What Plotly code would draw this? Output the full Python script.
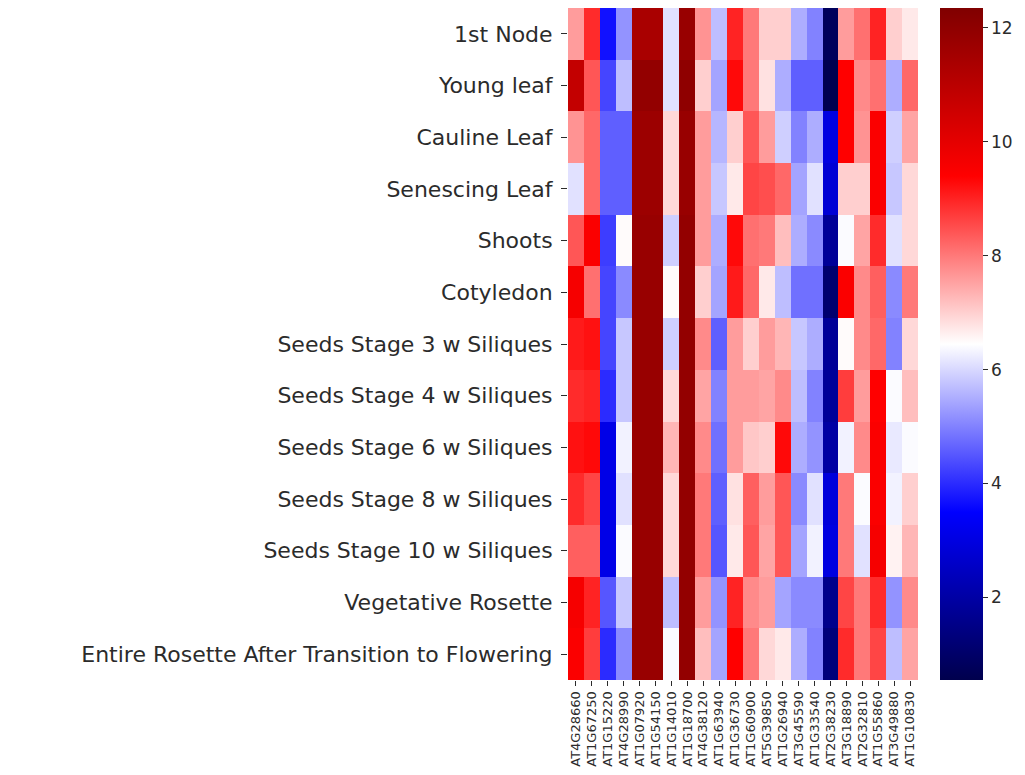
import plotly.graph_objects as go

tissues = [
    "1st Node", "Young leaf", "Cauline Leaf", "Senescing Leaf", "Shoots", "Cotyledon",
    "Seeds Stage 3 w Siliques", "Seeds Stage 4 w Siliques", "Seeds Stage 6 w Siliques",
    "Seeds Stage 8 w Siliques", "Seeds Stage 10 w Siliques", "Vegetative Rosette",
    "Entire Rosette After Transition to Flowering",
]

genes = [
    "AT4G28660", "AT1G67250", "AT1G15220", "AT4G28990", "AT1G07920", "AT1G54150",
    "AT1G14010", "AT1G18700", "AT4G38120", "AT1G63940", "AT1G36730", "AT1G60900",
    "AT5G39850", "AT1G26940", "AT3G45590", "AT1G33540", "AT2G38230", "AT3G18890",
    "AT2G32810", "AT1G55860", "AT3G49880", "AT1G10830",
]

row_1st_node = [7.6, 8.9, 3.7, 5.2, 11.4, 11.4, 6.1, 11.8, 7.7, 5.7, 9.0, 8.0, 7.0, 7.0, 5.5, 5.0, 0.8, 7.6, 8.1, 9.0, 7.0, 6.7]
row_young_leaf = [10.8, 8.4, 4.3, 5.7, 11.9, 11.9, 6.1, 12.0, 7.0, 5.4, 9.3, 8.0, 6.8, 5.5, 4.6, 4.6, 0.6, 9.4, 7.8, 8.1, 5.5, 8.2]
row_cauline = [7.7, 8.2, 4.6, 4.6, 11.7, 11.7, 6.9, 11.8, 7.6, 5.6, 7.0, 8.4, 7.6, 5.9, 5.0, 5.5, 3.0, 9.4, 7.7, 9.5, 5.9, 7.5]
row_senescing = [6.1, 8.2, 4.6, 4.6, 11.7, 11.7, 6.9, 11.8, 7.6, 5.8, 6.7, 8.6, 8.5, 8.2, 5.4, 6.1, 2.8, 7.0, 7.0, 9.5, 5.8, 6.9]
row_shoots = [8.4, 9.5, 4.2, 6.5, 11.8, 11.8, 5.9, 11.9, 7.6, 5.5, 9.3, 8.1, 8.0, 7.2, 5.5, 5.1, 1.8, 6.4, 7.5, 8.9, 6.1, 6.9]
row_cotyledon = [9.6, 8.1, 4.3, 5.1, 11.8, 11.8, 6.5, 11.9, 7.0, 5.4, 9.1, 8.2, 6.7, 5.7, 4.8, 4.8, 1.1, 9.5, 7.8, 8.3, 5.1, 8.0]
row_seeds3 = [9.1, 9.2, 4.3, 5.8, 11.8, 11.8, 5.9, 11.9, 7.8, 4.6, 7.6, 7.0, 7.6, 7.3, 5.8, 5.5, 1.8, 6.5, 7.8, 8.2, 5.0, 6.9]
row_seeds4 = [8.9, 9.0, 4.0, 5.8, 11.8, 11.8, 6.9, 11.9, 7.5, 5.0, 7.6, 7.6, 7.5, 7.8, 5.7, 5.0, 1.8, 8.7, 7.6, 9.4, 6.4, 7.2]
row_seeds6 = [9.2, 9.3, 3.1, 6.3, 11.8, 11.8, 7.3, 11.9, 7.8, 4.8, 7.6, 7.1, 7.0, 9.3, 5.5, 5.2, 2.0, 6.3, 7.8, 9.5, 6.2, 6.4]
row_seeds8 = [8.9, 8.6, 3.1, 6.1, 11.8, 11.8, 6.9, 11.9, 8.0, 4.6, 6.8, 8.3, 7.6, 8.4, 5.1, 6.1, 2.9, 8.0, 6.4, 9.5, 6.3, 7.0]
row_seeds10 = [8.3, 8.3, 3.1, 6.4, 11.8, 11.8, 6.9, 11.9, 8.0, 4.5, 6.7, 8.4, 7.5, 8.4, 5.4, 6.3, 3.0, 8.0, 6.1, 9.6, 6.6, 7.3]
row_veg_rosette = [9.6, 9.0, 4.5, 5.8, 11.8, 11.8, 5.7, 11.9, 7.6, 5.2, 9.0, 7.8, 7.6, 5.4, 5.1, 5.1, 1.6, 8.6, 8.0, 8.9, 5.2, 7.8]
row_entire_rosette = [9.5, 8.7, 4.0, 5.1, 11.8, 11.8, 6.4, 11.9, 7.2, 5.4, 9.4, 8.0, 6.9, 6.7, 5.5, 5.0, 1.3, 8.9, 8.0, 8.6, 5.7, 7.5]

z = [row_1st_node, row_young_leaf, row_cauline, row_senescing, row_shoots, row_cotyledon,
     row_seeds3, row_seeds4, row_seeds6, row_seeds8, row_seeds10, row_veg_rosette,
     row_entire_rosette]

cbar_ticks = [2, 4, 6, 8, 10, 12]

seismic = [
    [0.0, "rgb(0,0,77)"],
    [0.25, "rgb(0,0,255)"],
    [0.5, "rgb(255,255,255)"],
    [0.75, "rgb(255,0,0)"],
    [1.0, "rgb(128,0,0)"],
]

txt = "#2b2b2b"

fig = go.Figure(go.Heatmap(
    z=z, x=genes, y=tissues,
    colorscale=seismic, zmin=0.55, zmax=12.35,
    xgap=0, ygap=0,
    colorbar=dict(
        x=1.063, xanchor="left", xpad=0,
        y=0.5, yanchor="middle", len=1.0, lenmode="fraction", ypad=0,
        thickness=43, outlinewidth=0,
        tickvals=cbar_ticks, ticks="outside", ticklen=5, tickcolor=txt,
        tickfont=dict(family="DejaVu Sans", size=17, color=txt),
    ),
))

fig.update_layout(
    width=1025, height=775,
    margin=dict(l=568, r=107, t=8, b=93),
    paper_bgcolor="white", plot_bgcolor="white",
    font=dict(family="DejaVu Sans", color=txt),
)
fig.update_yaxes(
    autorange="reversed", ticks="outside", ticklen=6, tickcolor=txt,
    ticklabelstandoff=4,
    tickfont=dict(family="DejaVu Sans", size=22, color=txt), showgrid=False,
)
fig.update_xaxes(
    tickmode="array", tickvals=genes, ticktext=genes,
    tickangle=-90, ticks="outside", ticklen=5, tickcolor=txt,
    tickfont=dict(family="DejaVu Sans", size=13, color=txt), showgrid=False,
)

fig.write_html("out.html")
